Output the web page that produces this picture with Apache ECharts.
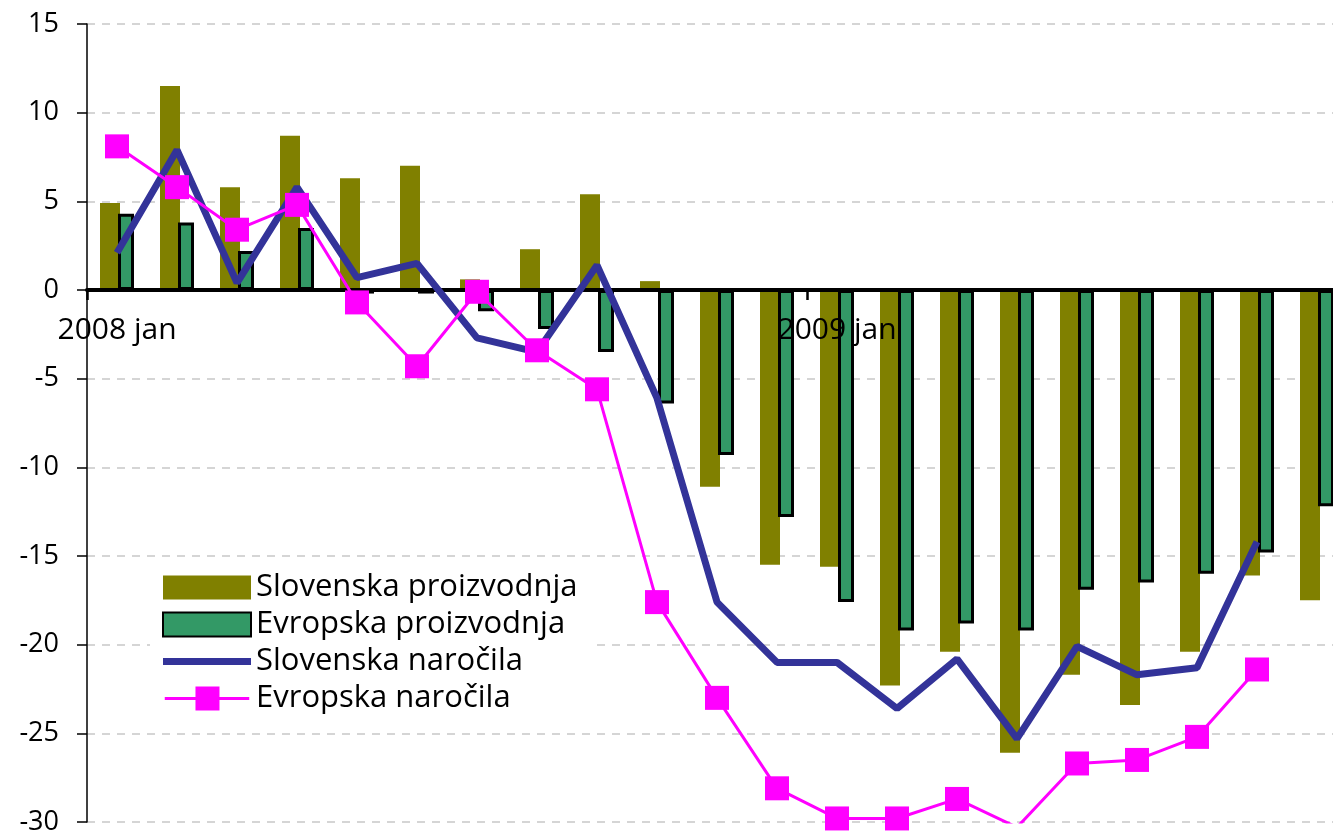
<!DOCTYPE html>
<html>
<head>
<meta charset="utf-8">
<script src="https://cdn.jsdelivr.net/npm/echarts@6/dist/echarts.min.js"></script>
<style>
html, body { margin: 0; padding: 0; background: #fff; }
#myEchart { width: 1333px; height: 835px; }
</style>
</head>
<body>
<div id="myEchart"></div>
<script>
// months 2008 jan .. 2009 sep
var months = ['2008 jan', '2008 feb', '2008 mar', '2008 apr', '2008 maj', '2008 jun',
    '2008 jul', '2008 avg', '2008 sep', '2008 okt', '2008 nov', '2008 dec',
    '2009 jan', '2009 feb', '2009 mar', '2009 apr', '2009 maj', '2009 jun',
    '2009 jul', '2009 avg', '2009 sep'];

var sloProizvodnja = [4.9, 11.5, 5.8, 8.7, 6.3, 7.0, 0.6, 2.3, 5.4, 0.5, -11.1, -15.5,
    -15.6, -22.3, -20.4, -26.1, -21.7, -23.4, -20.4, -16.1, -17.5];
var evrProizvodnja = [4.3, 3.8, 2.2, 3.5, -0.2, -0.2, -1.2, -2.2, -3.5, -6.4, -9.3, -12.8,
    -17.6, -19.2, -18.8, -19.2, -16.9, -16.5, -16.0, -14.8, -12.2];
var sloNarocila = [2.1, 7.9, 0.4, 5.8, 0.7, 1.5, -2.7, -3.5, 1.4, -6.1, -17.6, -21.0,
    -21.0, -23.6, -20.8, -25.3, -20.1, -21.7, -21.3, -14.2, null];
var evrNarocila = [8.1, 5.8, 3.4, 4.8, -0.7, -4.3, -0.1, -3.4, -5.6, -17.6, -23.0, -28.1,
    -29.8, -29.8, -28.7, -30.3, -26.7, -26.5, -25.2, -21.4, null];

var yTicks = { min: -30, max: 15, step: 5 };

var fontName = 'Open Sans';
var myChart = echarts.init(document.getElementById('myEchart'), null, { renderer: 'canvas' });

myChart.setOption({
    animation: false,
    backgroundColor: '#ffffff',
    grid: {
        left: 87,
        top: 24,
        width: 1260,
        height: 798,
        outerBoundsMode: 'none',
        containLabel: false
    },
    legend: {
        orient: 'vertical',
        left: 150,
        top: 566,
        z: 10,
        padding: [6, 14, 8, 12],
        backgroundColor: '#ffffff',
        itemWidth: 88,
        itemHeight: 24,
        itemGap: 6,
        textStyle: { fontFamily: fontName, fontSize: 31, color: '#000', lineHeight: 26 },
        data: [
            { name: 'Slovenska proizvodnja', icon: 'rect' },
            { name: 'Evropska proizvodnja', icon: 'rect' },
            { name: 'Slovenska naročila', icon: 'path://M0,0 L88,0 L88,7 L0,7 Z' },
            // line with square marker
            { name: 'Evropska naročila', icon: 'path://M0,11 L88,11 L88,14 L0,14 Z M32,0 L57,0 L57,25 L32,25 Z' }
        ]
    },
    xAxis: {
        type: 'category',
        data: months,
        z: 3,
        axisLine: { onZero: true, lineStyle: { color: '#000', width: 4 } },
        axisTick: { show: true, interval: 11, length: 10, lineStyle: { color: '#000', width: 2.5 } },
        axisLabel: {
            interval: 11,
            // labels sit just under the zero line
            margin: -507,
            fontFamily: fontName,
            fontSize: 30,
            color: '#000'
        },
        splitLine: { show: false }
    },
    yAxis: {
        type: 'value',
        min: yTicks.min,
        max: yTicks.max,
        interval: yTicks.step,
        axisLine: { show: true, lineStyle: { color: '#000', width: 1.5 } },
        axisTick: { show: true, length: 10, lineStyle: { color: '#000', width: 1.5 } },
        axisLabel: { margin: 28, fontFamily: fontName, fontSize: 27, color: '#000' },
        splitLine: { show: true, lineStyle: { color: '#c8c8c8', width: 1.5, type: [8, 7] } }
    },
    series: [{
        name: 'Slovenska proizvodnja',
        type: 'bar',
        barWidth: 20,
        barGap: '-10%',
        itemStyle: { color: '#808000' },
        data: sloProizvodnja
    }, {
        name: 'Evropska proizvodnja',
        type: 'bar',
        barWidth: 16,
        itemStyle: { color: '#339966', borderColor: '#000', borderWidth: 3 },
        data: evrProizvodnja
    }, {
        name: 'Slovenska naročila',
        type: 'line',
        z: 5,
        symbol: 'none',
        lineStyle: { color: '#333399', width: 7 },
        itemStyle: { color: '#333399' },
        data: sloNarocila
    }, {
        name: 'Evropska naročila',
        type: 'line',
        z: 6,
        symbol: 'rect',
        symbolSize: 24,
        clip: true,
        lineStyle: { color: '#ff00ff', width: 3 },
        itemStyle: { color: '#ff00ff' },
        data: evrNarocila
    }]
});
</script>
</body>
</html>
